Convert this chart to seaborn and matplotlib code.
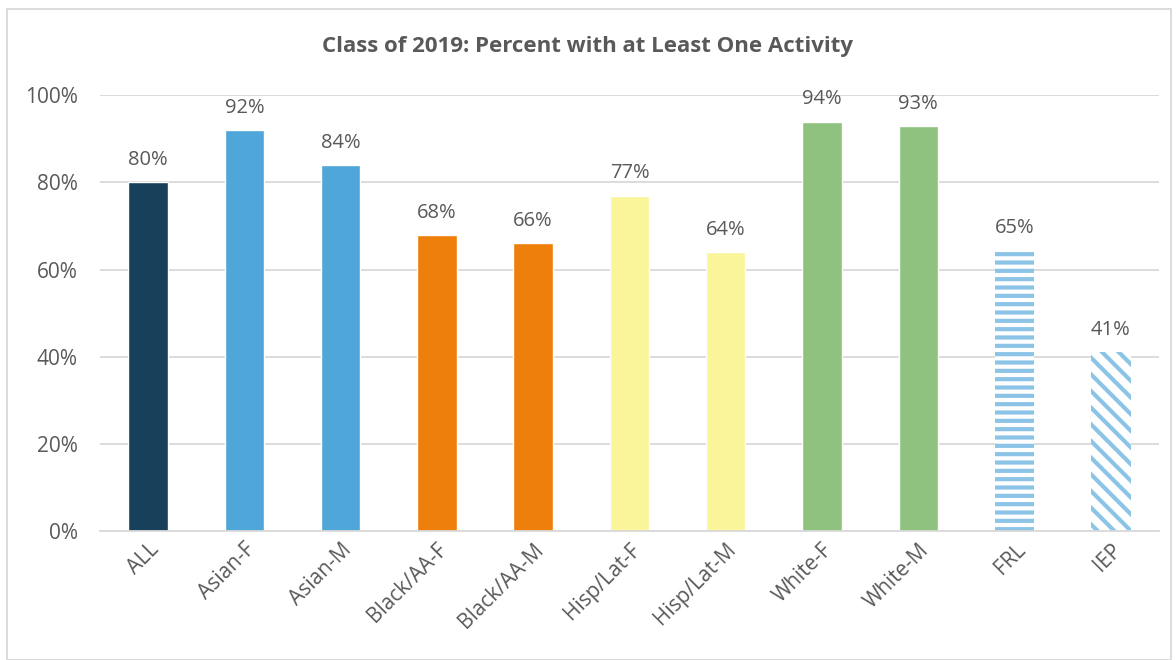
import numpy as np
import pandas as pd
import matplotlib.pyplot as plt
import seaborn as sns
from matplotlib.patches import Rectangle

groups = ['ALL', 'Asian-F', 'Asian-M', 'Black/AA-F', 'Black/AA-M',
          'Hisp/Lat-F', 'Hisp/Lat-M', 'White-F', 'White-M', 'FRL', 'IEP']
pct = [0.80, 0.92, 0.84, 0.68, 0.66, 0.77, 0.64, 0.94, 0.93, 0.645, 0.41]
labels = ['80%', '92%', '84%', '68%', '66%', '77%', '64%', '94%', '93%', '65%', '41%']
colors = ['#17405a', '#4ea6d9', '#4ea6d9', '#ef7f0b', '#ef7f0b',
          '#faf59b', '#faf59b', '#8fc17f', '#8fc17f', '#8bc4e6', '#8bc4e6']
hatches = [None] * 9 + ['--', '\\\\']

df = pd.DataFrame({'group': groups, 'pct': pct})

sns.set_style('white')
plt.rcParams['font.family'] = ['Open Sans', 'DejaVu Sans']
plt.rcParams['hatch.linewidth'] = 3.0
txt = '#595959'

fig = plt.figure(figsize=(11.76, 6.6), dpi=100)
ax = fig.add_axes([0.085, 0.1955, 0.9005, 0.66])
sns.barplot(data=df, x='group', y='pct', hue='group',
            palette=dict(zip(groups, colors)), legend=False,
            width=0.41, saturation=1, ax=ax)

for p, h, c in zip(ax.patches, hatches, colors):
    if h:
        p.set_facecolor('white')
        p.set_edgecolor(c)
        p.set_hatch(h)
        p.set_linewidth(0)

for i, (v, lab) in enumerate(zip(pct, labels)):
    ax.text(i, v + 0.028, lab, ha='center', va='bottom',
            fontsize=14.5, color=txt, clip_on=False)

ax.set_ylim(0, 1)
ax.set_xlim(-0.5, len(groups) - 0.5)
ax.set_yticks(np.arange(0, 1.01, 0.2))
ax.set_yticklabels(['0%', '20%', '40%', '60%', '80%', '100%'])
ax.yaxis.grid(True, color='#d9d9d9', linewidth=1.3)
ax.set_axisbelow(True)
for s in ['top', 'right', 'left']:
    ax.spines[s].set_visible(False)
ax.spines['bottom'].set_color('#d9d9d9')
ax.spines['bottom'].set_linewidth(1.3)
ax.tick_params(axis='both', length=0, labelsize=15, labelcolor=txt)
ax.tick_params(axis='y', pad=16)
ax.tick_params(axis='x', pad=6)
plt.setp(ax.get_xticklabels(), rotation=45, ha='right', rotation_mode='anchor')
ax.set_xlabel('')
ax.set_ylabel('')

fig.text(0.5, 0.93, 'Class of 2019: Percent with at Least One Activity',
         ha='center', va='center', fontsize=16, fontweight='bold', color=txt)
fig.patches.append(Rectangle((0.006, 0.0), 0.99, 0.986, transform=fig.transFigure,
                             fill=False, edgecolor='#d9d9d9', linewidth=1.3))

plt.savefig('out.png')
